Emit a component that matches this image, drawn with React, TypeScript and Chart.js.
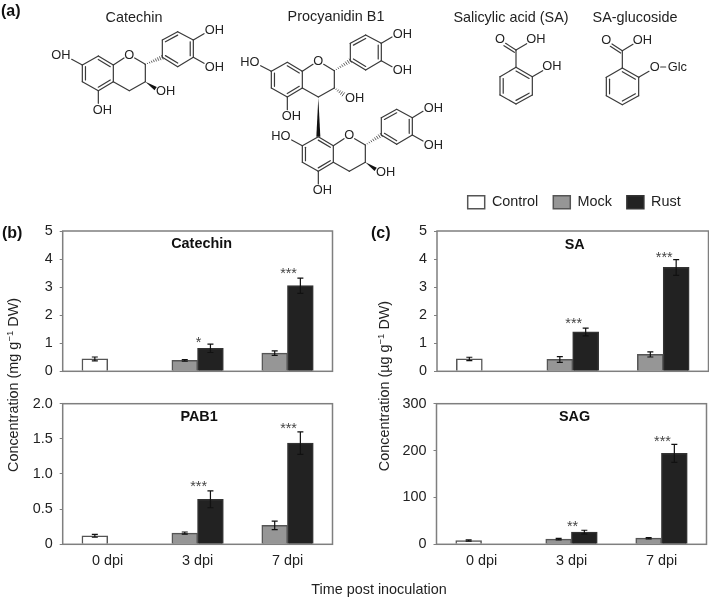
import React, { useEffect, useRef } from "react";
import { Chart, registerables } from "chart.js";

Chart.register(...registerables);
Chart.defaults.font.family = '"Liberation Sans", Arial, sans-serif';

const categories = ["0 dpi", "3 dpi", "7 dpi"];

const catechinControl = [0.44, null, null];
const catechinMock = [null, 0.39, 0.65];
const catechinRust = [null, 0.82, 3.05];
const catechinControlErr = [0.07, 0, 0];
const catechinMockErr = [0, 0.03, 0.08];
const catechinRustErr = [0, 0.15, 0.27];
const catechinStars = ["", "*", "***"];
const catechinStarLevel = [0, 1.15, 3.63];

const pab1Control = [0.12, null, null];
const pab1Mock = [null, 0.16, 0.27];
const pab1Rust = [null, 0.64, 1.44];
const pab1ControlErr = [0.02, 0, 0];
const pab1MockErr = [0, 0.015, 0.06];
const pab1RustErr = [0, 0.12, 0.16];
const pab1Stars = ["", "***", "***"];
const pab1StarLevel = [0, 0.876, 1.7];

const saControl = [0.44, null, null];
const saMock = [null, 0.42, 0.6];
const saRust = [null, 1.4, 3.7];
const saControlErr = [0.06, 0, 0];
const saMockErr = [0, 0.1, 0.09];
const saRustErr = [0, 0.14, 0.28];
const saStars = ["", "***", "***"];
const saStarLevel = [0, 1.83, 4.18];

const sagControl = [8, null, null];
const sagMock = [null, 11, 13];
const sagRust = [null, 26, 194];
const sagControlErr = [1.5, 0, 0];
const sagMockErr = [0, 1.5, 1.5];
const sagRustErr = [0, 4, 19];
const sagStars = ["", "**", "***"];
const sagStarLevel = [0, 46, 227];

const FS = 14.4;
const INK = "#222";
const FRAME = "#7f7f7f";

type Panel = {
  title: string; titleDx: number; titleDy: number;
  canvas: [number, number, number, number];
  plot: [number, number, number, number];
  max: number; step: number; xLabels: boolean; legend: boolean;
  control: any[]; mock: any[]; rust: any[];
  errs: number[][]; stars: string[]; starLevel: number[];
};

const panels: Panel[] = [
  { title: "Catechin", titleDx: 4, titleDy: 13, canvas: [20, 220, 320, 160], plot: [62.7, 231, 332.5, 371.3], max: 5, step: 1, xLabels: false, legend: false,
    control: catechinControl, mock: catechinMock, rust: catechinRust, errs: [catechinControlErr, catechinMockErr, catechinRustErr], stars: catechinStars, starLevel: catechinStarLevel },
  { title: "PAB1", titleDx: 1.5, titleDy: 13.5, canvas: [20, 393, 320, 182], plot: [62.7, 403.7, 332.5, 544.3], max: 2, step: 0.5, xLabels: true, legend: false,
    control: pab1Control, mock: pab1Mock, rust: pab1Rust, errs: [pab1ControlErr, pab1MockErr, pab1RustErr], stars: pab1Stars, starLevel: pab1StarLevel },
  { title: "SA", titleDx: 2, titleDy: 14.5, canvas: [400, 180, 309, 200], plot: [437, 231, 708.5, 371.3], max: 5, step: 1, xLabels: false, legend: true,
    control: saControl, mock: saMock, rust: saRust, errs: [saControlErr, saMockErr, saRustErr], stars: saStars, starLevel: saStarLevel },
  { title: "SAG", titleDx: 3, titleDy: 13.5, canvas: [400, 393, 309, 182], plot: [436.5, 403.7, 706.5, 544.3], max: 300, step: 100, xLabels: true, legend: false,
    control: sagControl, mock: sagMock, rust: sagRust, errs: [sagControlErr, sagMockErr, sagRustErr], stars: sagStars, starLevel: sagStarLevel },
];

const LEGEND_BOX_X = 467.7;
const LEGEND_BOX_Y = 195;

function makeChart(el: HTMLCanvasElement, p: Panel) {
  const [cl, ct, cw, ch] = p.canvas;
  const [pl, pt, pr, pb] = p.plot;
  const legendH = p.legend ? FS + 15 + 10 : 0;

  const legendPlace = {
    id: "legendPlace",
    afterLayout(chart: any) {
      const l = chart.legend;
      if (!l || !p.legend) return;
      const dx = LEGEND_BOX_X - cl - (l.right - l.lineWidths[0]);
      const dy = LEGEND_BOX_Y - ct - (l.top + 15);
      l.left += dx; l.right += dx; l.top += dy; l.bottom += dy;
    },
  };

  const overlay = {
    id: "overlay",
    afterDatasetsDraw(chart: any) {
      const { ctx, chartArea: a, scales } = chart;
      ctx.save();
      ctx.strokeStyle = FRAME;
      ctx.lineWidth = 1.5;
      ctx.strokeRect(a.left, a.top, a.right - a.left, a.bottom - a.top);

      ctx.strokeStyle = "#111";
      ctx.lineWidth = 1.2;
      chart.data.datasets.forEach((ds: any, di: number) => {
        const meta = chart.getDatasetMeta(di);
        ds.data.forEach((v: any, i: number) => {
          if (v == null) return;
          const e = p.errs[di][i];
          const x = meta.data[i].x;
          const y0 = scales.y.getPixelForValue(v - e);
          const y1 = scales.y.getPixelForValue(v + e);
          ctx.beginPath();
          ctx.moveTo(x, y0); ctx.lineTo(x, y1);
          ctx.moveTo(x - 3, y0); ctx.lineTo(x + 3, y0);
          ctx.moveTo(x - 3, y1); ctx.lineTo(x + 3, y1);
          ctx.stroke();
        });
      });

      ctx.fillStyle = "#444";
      ctx.font = `${FS}px "Liberation Sans"`;
      ctx.textAlign = "center";
      ctx.textBaseline = "alphabetic";
      p.stars.forEach((s, i) => {
        if (!s) return;
        ctx.fillText(s, scales.x.getPixelForValue(i) + 1, scales.y.getPixelForValue(p.starLevel[i]) + 8.3);
      });

      ctx.fillStyle = "#111";
      ctx.font = `bold ${FS}px "Liberation Sans"`;
      ctx.textBaseline = "middle";
      ctx.fillText(p.title, (a.left + a.right) / 2 + p.titleDx, a.top + p.titleDy);
      ctx.restore();
    },
  };

  return new Chart(el, {
    type: "bar",
    data: {
      labels: categories,
      datasets: [
        { label: "Control", data: p.control, stack: "left", backgroundColor: "#ffffff", borderColor: "#555", borderWidth: 1.5, inflateAmount: 0.4 },
        { label: "Mock", data: p.mock, stack: "left", backgroundColor: "#969696", borderColor: "#555", borderWidth: 1.5, inflateAmount: 0.4 },
        { label: "Rust", data: p.rust, stack: "right", backgroundColor: "#222222", borderColor: "#333", borderWidth: 1.5, inflateAmount: 0.4 },
      ],
    },
    options: {
      animation: false,
      responsive: false,
      maintainAspectRatio: false,
      layout: { autoPadding: false, padding: { left: 0, right: cl + cw - pr, top: pt - ct - legendH, bottom: 0 } },
      datasets: { bar: { barPercentage: 1, categoryPercentage: 0.571 } },
      plugins: {
        tooltip: { enabled: false },
        title: { display: false },
        legend: {
          display: p.legend,
          position: "top",
          align: "end",
          labels: { boxWidth: 17, boxHeight: 13, padding: 15, color: INK, font: { size: FS } },
        },
      },
      scales: {
        x: {
          stacked: true,
          afterFit: (s: any) => { s.height = ct + ch - pb; s.paddingLeft = 0; s.paddingRight = 0; s.paddingTop = 0; s.paddingBottom = 0; },
          grid: { display: false, drawTicks: false },
          border: { display: false },
          ticks: { display: p.xLabels, color: INK, padding: 8, maxRotation: 0, font: { size: FS } },
        },
        y: {
          stacked: true,
          min: 0,
          max: p.max,
          afterFit: (s: any) => { s.width = pl - cl; s.paddingLeft = 0; s.paddingRight = 0; s.paddingTop = 0; s.paddingBottom = 0; },
          grid: { drawOnChartArea: false, drawTicks: true, tickLength: 3, color: FRAME, lineWidth: 1 },
          border: { display: false },
          ticks: { stepSize: p.step, color: INK, padding: 7, font: { size: FS } },
        },
      },
    } as any,
    plugins: [legendPlace, overlay],
  } as any);
}

/* ---- chemical structure drawing, in 3x page units ---- */
type Pt = [number, number];
const STROKE = "#3a3a3a";

function Bond({ a, b }: { a: Pt; b: Pt }) {
  return <line x1={a[0]} y1={a[1]} x2={b[0]} y2={b[1]} stroke={STROKE} strokeWidth={3.6} strokeLinecap="round" />;
}

function Ring({ v, dbl }: { v: Pt[]; dbl: number[] }) {
  const cx = v.reduce((s, p) => s + p[0], 0) / 6;
  const cy = v.reduce((s, p) => s + p[1], 0) / 6;
  const inner = (p: Pt): Pt => [p[0] + (cx - p[0]) * 0.2, p[1] + (cy - p[1]) * 0.2];
  return (
    <g>
      {v.map((p, i) => <Bond key={i} a={p} b={v[(i + 1) % 6]} />)}
      {dbl.map((i) => <Bond key={"d" + i} a={inner(v[i])} b={inner(v[(i + 1) % 6])} />)}
    </g>
  );
}

function Atom({ x, y, t }: { x: number; y: number; t: string }) {
  return <text x={x} y={y} fontSize={38.5} fill="#222" textAnchor="middle" dominantBaseline="central">{t}</text>;
}

function Wedge({ a, b }: { a: Pt; b: Pt }) {
  const dx = b[0] - a[0], dy = b[1] - a[1], l = Math.hypot(dx, dy);
  const nx = (-dy / l) * 6, ny = (dx / l) * 6;
  return <polygon points={`${a[0]},${a[1]} ${b[0] + nx},${b[1] + ny} ${b[0] - nx},${b[1] - ny}`} fill="#111" />;
}

function Hash({ a, b }: { a: Pt; b: Pt }) {
  const dx = b[0] - a[0], dy = b[1] - a[1], l = Math.hypot(dx, dy);
  const n = Math.max(4, Math.round(l / 7));
  const items = [];
  for (let i = 0; i <= n; i++) {
    const t = i / n;
    const w = 1 + 6 * t;
    const px = a[0] + dx * t, py = a[1] + dy * t;
    items.push(<line key={i} x1={px - (dy / l) * w} y1={py + (dx / l) * w} x2={px + (dy / l) * w} y2={py - (dx / l) * w} stroke={STROKE} strokeWidth={2.4} />);
  }
  return <g>{items}</g>;
}

function Flavan({ ox, oy, bx, by, c3Hash, c7Label }: { ox: number; oy: number; bx: number; by: number; c3Hash?: boolean; c7Label: string }) {
  const s = (x: number, y: number): Pt => [x + ox, y + oy];
  const r = (x: number, y: number): Pt => [x + bx, y + by];
  return (
    <g>
      <Ring v={[s(295, 168), s(340, 195), s(340, 245), s(295, 272), s(247, 245), s(247, 195)]} dbl={[0, 2, 4]} />
      <Bond a={s(340, 195)} b={s(372, 174)} />
      <Bond a={s(404, 174)} b={s(436, 193)} />
      <Bond a={s(436, 193)} b={s(436, 245)} />
      <Bond a={s(436, 245)} b={s(388, 272)} />
      <Bond a={s(388, 272)} b={s(340, 245)} />
      <Atom x={ox + 388} y={oy + 163} t="O" />
      <Bond a={s(247, 195)} b={s(215, 178)} />
      <Atom x={ox + 183} y={oy + 165} t={c7Label} />
      <Bond a={s(295, 272)} b={s(295, 310)} />
      <Atom x={ox + 307} y={oy + 328} t="OH" />
      {c3Hash ? <Hash a={s(436, 245)} b={s(463, 264)} /> : <Wedge a={s(436, 245)} b={s(467, 266)} />}
      <Atom x={ox + 497} y={oy + 273} t="OH" />
      <Hash a={s(436, 193)} b={r(487, 172)} />
      <Ring v={[r(533, 95), r(580, 120), r(580, 172), r(533, 200), r(487, 172), r(487, 120)]} dbl={[5, 1, 3]} />
      <Bond a={r(580, 120)} b={r(612, 101)} />
      <Bond a={r(580, 172)} b={r(612, 190)} />
      <Atom x={bx + 643} y={by + 90} t="OH" />
      <Atom x={bx + 643} y={by + 200} t="OH" />
    </g>
  );
}

function Benzoic({ ox, oy, glc }: { ox: number; oy: number; glc: boolean }) {
  const s = (x: number, y: number): Pt => [x + ox, y + oy];
  const dblO: [Pt, Pt] = [s(498, 150), s(467, 130)];
  return (
    <g>
      <Ring v={[s(498, 202), s(547, 230), s(547, 285), s(498, 312), s(450, 285), s(450, 230)]} dbl={[0, 2, 4]} />
      <Bond a={s(498, 202)} b={s(498, 150)} />
      <Bond a={dblO[0]} b={dblO[1]} />
      <Bond a={[dblO[0][0] - 5, dblO[0][1] + 7]} b={[dblO[1][0] - 5, dblO[1][1] + 7]} />
      <Bond a={s(498, 150)} b={s(530, 131)} />
      <Atom x={ox + 450} y={oy + 117} t="O" />
      <Atom x={ox + 558} y={oy + 117} t="OH" />
      <Bond a={s(547, 230)} b={s(578, 212)} />
      {glc ? (
        <g>
          <Atom x={ox + 595} y={oy + 198} t="O" />
          <Bond a={s(613, 199)} b={s(628, 199)} />
          <Atom x={ox + 663} y={oy + 199} t="Glc" />
        </g>
      ) : (
        <Atom x={ox + 606} y={oy + 198} t="OH" />
      )}
    </g>
  );
}

function Illustration() {
  const txt = { fontFamily: '"Liberation Sans", Arial, sans-serif' };
  const ylab = (x: number, y: number, unit: string) => (
    <text transform={`translate(${x},${y}) rotate(-90)`} textAnchor="middle" fontSize={FS} fill={INK}>
      Concentration ({unit} g<tspan dy={-5} fontSize={9.5}>−1</tspan><tspan dy={5}> DW)</tspan>
    </text>
  );
  return (
    <svg width={709} height={598} style={{ position: "absolute", left: 0, top: 0, pointerEvents: "none", ...txt }}>
      <text x={1} y={16} fontSize={16} fontWeight="bold" fill="#111">(a)</text>
      <text x={2} y={238} fontSize={16} fontWeight="bold" fill="#111">(b)</text>
      <text x={371} y={238} fontSize={16} fontWeight="bold" fill="#111">(c)</text>

      <text x={134} y={22} fontSize={FS} fill={INK} textAnchor="middle">Catechin</text>
      <text x={336} y={21} fontSize={FS} fill={INK} textAnchor="middle">Procyanidin B1</text>
      <text x={511} y={22} fontSize={FS} fill={INK} textAnchor="middle">Salicylic acid (SA)</text>
      <text x={635} y={22} fontSize={FS} fill={INK} textAnchor="middle">SA-glucoside</text>

      <g transform="scale(0.33333)">
        <Flavan ox={0} oy={0} bx={0} by={0} c7Label="OH" />
        <Flavan ox={567} oy={19} bx={564} by={10} c3Hash c7Label="HO" />
        <Wedge a={[955, 293]} b={[955, 410]} />
        <Flavan ox={660} oy={242} bx={657} by={233} c7Label="HO" />
        <Benzoic ox={1050} oy={0} glc={false} />
        <Benzoic ox={1369} oy={2} glc={true} />
      </g>

      {ylab(18, 385, "mg")}
      {ylab(388.5, 386, "µg")}
      <text x={379} y={594} fontSize={FS} fill={INK} textAnchor="middle">Time post inoculation</text>
    </svg>
  );
}

export default function App() {
  const refs = useRef<(HTMLCanvasElement | null)[]>([]);
  useEffect(() => {
    document.body.style.margin = "0";
    const charts = panels.map((p, i) => makeChart(refs.current[i] as HTMLCanvasElement, p));
    return () => charts.forEach((c) => c.destroy());
  }, []);
  return (
    <div style={{ position: "absolute", left: 0, top: 0, width: 709, height: 598, background: "#fff", overflow: "hidden" }}>
      {panels.map((p, i) => (
        <canvas
          key={p.title}
          ref={(el) => { refs.current[i] = el; }}
          width={p.canvas[2]}
          height={p.canvas[3]}
          style={{ position: "absolute", left: p.canvas[0], top: p.canvas[1], width: p.canvas[2], height: p.canvas[3] }}
        />
      ))}
      <Illustration />
    </div>
  );
}
